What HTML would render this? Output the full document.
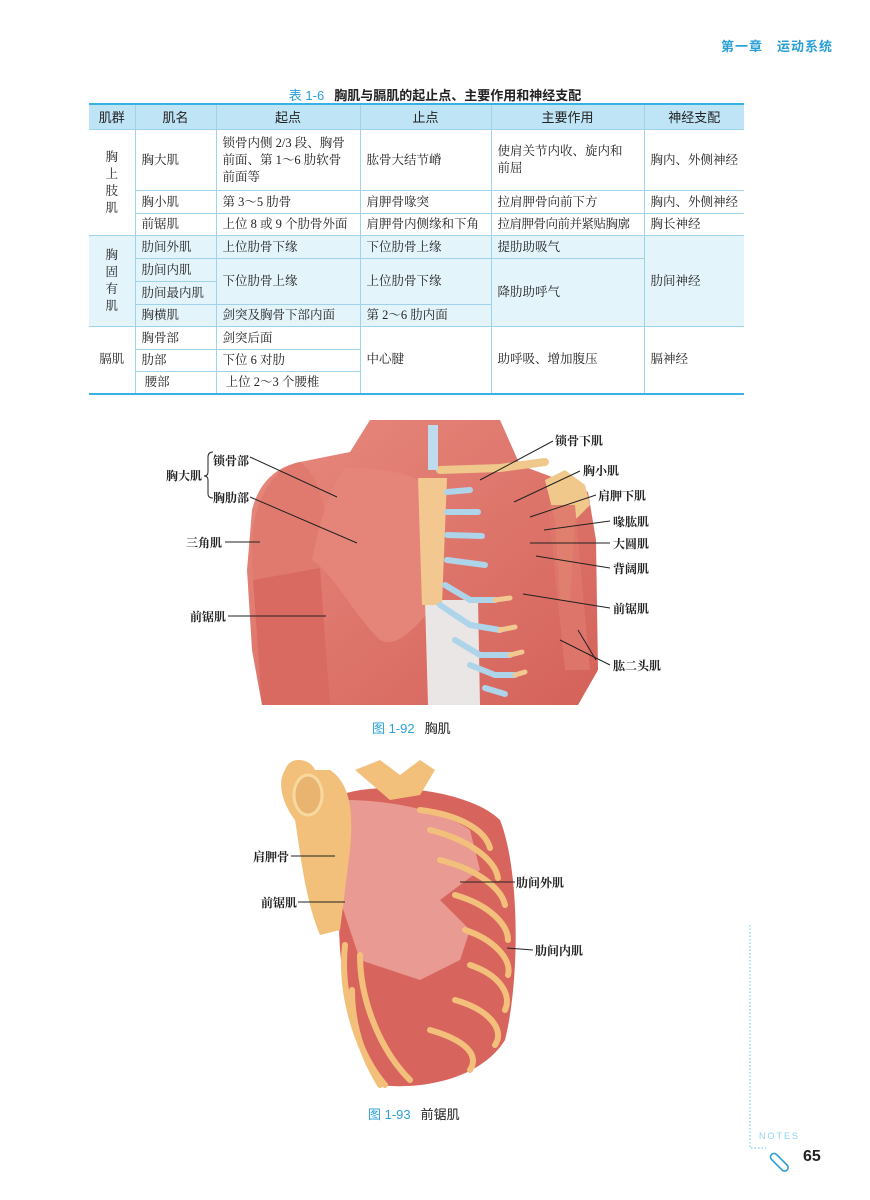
<!DOCTYPE html>
<html><head><meta charset="utf-8">
<style>
body{margin:0;width:870px;height:1200px;position:relative;background:#fff;overflow:hidden;font-family:"Liberation Serif","Noto Serif CJK SC",serif;}
.abs{position:absolute;}
.hdr{left:721px;top:36px;font:bold 13px "Liberation Sans","Noto Sans CJK SC",sans-serif;color:#2a9fd6;letter-spacing:1px;}
.ttl{left:0;width:870px;text-align:center;top:85px;font:bold 13px "Liberation Sans","Noto Sans CJK SC",sans-serif;color:#222;}
.ttl b{color:#2a9fd6;font-weight:normal;margin-right:10px}
table{position:absolute;left:89px;top:103px;border-collapse:collapse;font-size:12.5px;color:#222;table-layout:fixed;}
td{border:1px solid #9fd3ec;padding:0 6px;vertical-align:middle;line-height:17px;white-space:nowrap;overflow:hidden;}
tr.h td{background:#bfe4f5;text-align:center;font-family:"Liberation Sans","Noto Sans CJK SC",sans-serif;font-size:13px;height:24px;}
tr.b td{background:#e4f4fb;}
td.c{text-align:center;padding:0;}
table{border-top:2px solid #36b2e4;border-bottom:2px solid #36b2e4;}
table td:first-child{border-left:none}
table td.last{border-right:none}
.lab{position:absolute;font-size:12px;font-weight:bold;color:#222;white-space:nowrap;font-family:"Liberation Serif","Noto Serif CJK SC",serif;}
.cap{position:absolute;font:13px "Liberation Sans","Noto Sans CJK SC",sans-serif;color:#222;}
.cap b{color:#2a9fd6;font-weight:normal;margin-right:10px}
</style></head><body>
<div class="abs hdr">第一章　运动系统</div>
<div class="abs ttl"><b>表 1-6</b>胸肌与膈肌的起止点、主要作用和神经支配</div>
<table>
<colgroup><col style="width:46px"><col style="width:81px"><col style="width:144px"><col style="width:131px"><col style="width:153px"><col style="width:97px"></colgroup>
<tr class="h"><td>肌群</td><td>肌名</td><td>起点</td><td>止点</td><td>主要作用</td><td class="last">神经支配</td></tr>
<tr style="height:61px"><td class="c" rowspan="3">胸<br>上<br>肢<br>肌</td><td>胸大肌</td><td>锁骨内侧 2/3 段、胸骨<br>前面、第 1～6 肋软骨<br>前面等</td><td>肱骨大结节嵴</td><td>使肩关节内收、旋内和<br>前屈</td><td class="last">胸内、外侧神经</td></tr>
<tr style="height:23px"><td>胸小肌</td><td>第 3～5 肋骨</td><td>肩胛骨喙突</td><td>拉肩胛骨向前下方</td><td class="last">胸内、外侧神经</td></tr>
<tr style="height:22px"><td>前锯肌</td><td>上位 8 或 9 个肋骨外面</td><td>肩胛骨内侧缘和下角</td><td style="letter-spacing:-0.5px">拉肩胛骨向前并紧贴胸廓</td><td class="last">胸长神经</td></tr>
<tr class="b" style="height:23px"><td class="c" rowspan="4">胸<br>固<br>有<br>肌</td><td>肋间外肌</td><td>上位肋骨下缘</td><td>下位肋骨上缘</td><td>提肋助吸气</td><td class="last" rowspan="4">肋间神经</td></tr>
<tr class="b" style="height:23px"><td>肋间内肌</td><td rowspan="2">下位肋骨上缘</td><td rowspan="2">上位肋骨下缘</td><td rowspan="3">降肋助呼气</td></tr>
<tr class="b" style="height:23px"><td>肋间最内肌</td></tr>
<tr class="b" style="height:22px"><td>胸横肌</td><td>剑突及胸骨下部内面</td><td>第 2～6 肋内面</td></tr>
<tr style="height:23px"><td class="c" rowspan="3">膈肌</td><td>胸骨部</td><td>剑突后面</td><td rowspan="3">中心腱</td><td rowspan="3">助呼吸、增加腹压</td><td class="last" rowspan="3">膈神经</td></tr>
<tr style="height:22px"><td>肋部</td><td>下位 6 对肋</td></tr>
<tr style="height:22px"><td>&nbsp;腰部</td><td>&nbsp;上位 2～3 个腰椎</td></tr>
</table>

<svg class="abs" style="left:0;top:0" width="870" height="1200">
<defs>
<linearGradient id="m" x1="0" y1="0" x2="1" y2="1"><stop offset="0" stop-color="#e88a7e"/><stop offset="1" stop-color="#d4625a"/></linearGradient>
</defs>
<!-- Figure 1 -->
<path d="M370,420 L500,420 L520,465 L560,480 L588,492 L596,540 L598,670 L578,705 L262,705 L252,650 L247,570 L252,510 Q262,470 300,462 L350,452 Z" fill="url(#m)"/>
<path d="M300,462 C258,470 243,540 256,585 C275,605 310,575 335,560 C325,520 325,480 300,462Z" fill="#e07a6f"/>
<path d="M253,580 L320,568 L330,705 L262,705 Z" fill="#d96a61"/>
<path d="M345,468 C400,468 430,478 435,500 L440,600 C420,620 400,650 380,640 C350,610 335,575 312,560 C320,520 330,488 345,468Z" fill="#e5857a"/>
<path d="M425,600 L478,600 L480,705 L428,705Z" fill="#ebe6e6"/>
<path d="M440,470 L500,468 L545,462" stroke="#f0c88c" stroke-width="8" fill="none" stroke-linecap="round"/>
<path d="M418,478 L447,478 L442,605 L422,605Z" fill="#f2c890"/>
<rect x="428" y="425" width="10" height="45" fill="#bfdcef"/>
<g stroke="#aed4ea" stroke-width="6" fill="none" stroke-linecap="round">
<path d="M447,492 L470,490"/><path d="M447,512 L478,512"/><path d="M447,535 L482,536"/><path d="M447,560 L485,565"/>
<path d="M445,585 L470,600 L495,600"/><path d="M440,605 L470,625 L500,630"/><path d="M455,640 L480,655 L510,655"/><path d="M470,665 L495,675 L515,675"/><path d="M485,688 L505,694"/>
</g>
<g stroke="#f0c890" stroke-width="5" fill="none" stroke-linecap="round">
<path d="M495,600 L510,598"/><path d="M500,630 L515,627"/><path d="M510,655 L522,652"/><path d="M515,675 L525,672"/>
</g>
<path d="M545,480 L565,470 L585,485 L590,505 L575,520 L570,600 L560,600 L555,520Z" fill="#f0c88c"/>
<path d="M548,505 L575,505 L590,670 L565,670Z" fill="#df776c" opacity="0.9"/>
<g stroke="#222" stroke-width="1" fill="none">
<path d="M250,457 L337,497"/><path d="M250,497 L357,543"/><path d="M225,542 L260,542"/><path d="M228,616 L326,616"/>
<path d="M553,441 L480,480"/><path d="M580,471 L514,502"/><path d="M596,495 L530,517"/><path d="M610,521 L544,530"/><path d="M610,543 L530,543"/><path d="M610,568 L536,556"/><path d="M610,608 L523,594"/><path d="M610,665 L560,640"/><path d="M596,660 L578,630"/>
<path d="M213,452 Q208,452 208,457 L208,472 Q208,476 204,476 Q208,476 208,480 L208,494 Q208,498 213,498"/>
</g>
<!-- Figure 2 -->
<path d="M340,795 C380,780 470,790 500,820 C520,870 520,980 505,1040 C480,1080 420,1090 380,1085 C350,1040 335,960 340,900Z" fill="#d8655d"/>
<path d="M345,800 C400,800 450,815 470,830 L480,870 L440,900 L470,930 L460,960 L420,980 L360,960 L340,900Z" fill="#e99a92"/>
<path d="M285,770 C290,755 310,758 315,770 L330,770 C345,780 355,800 350,850 L340,930 L320,935 C305,900 300,850 295,820 C280,800 278,780 285,770Z" fill="#f2c07a"/>
<ellipse cx="308" cy="795" rx="14" ry="20" fill="#e8b470" stroke="#f7d9a0" stroke-width="3"/>
<path d="M355,770 L380,760 L400,775 L420,760 L435,770 L420,795 L390,800 Z" fill="#f2c07a"/>
<g stroke="#f2c07a" stroke-width="6" fill="none" stroke-linecap="round">
<path d="M420,810 C460,815 485,830 490,848"/>
<path d="M430,830 C470,840 495,860 498,878"/>
<path d="M440,860 C480,870 502,890 505,905"/>
<path d="M455,895 C490,905 508,925 508,940"/>
<path d="M465,930 C495,940 512,960 508,975"/>
<path d="M470,965 C500,975 512,995 505,1010"/>
<path d="M455,1000 C490,1010 505,1030 495,1045"/>
<path d="M430,1030 C465,1040 480,1055 470,1070"/>
<path d="M345,945 C340,990 355,1050 385,1085"/>
<path d="M360,955 C360,1000 380,1050 410,1080"/>
<path d="M352,990 C352,1030 365,1060 380,1085"/>
</g>
<g stroke="#222" stroke-width="1" fill="none">
<path d="M291,856 L335,856"/><path d="M298,902 L345,902"/><path d="M460,882 L515,882"/><path d="M507,948 L533,950"/>
</g>
<!-- notes -->
<path d="M750,925 L750,1148 L766,1148" stroke="#5cc4ec" stroke-width="1" stroke-dasharray="1.5,2" fill="none"/>
<rect x="774" y="1152" width="22" height="7" rx="3.5" transform="rotate(45 774 1152)" fill="none" stroke="#2a9fd6" stroke-width="1.6"/>
</svg>
<div class="lab" style="left:213px;top:452px">锁骨部</div>
<div class="lab" style="left:166px;top:467px">胸大肌</div>
<div class="lab" style="left:213px;top:489px">胸肋部</div>
<div class="lab" style="left:186px;top:534px">三角肌</div>
<div class="lab" style="left:190px;top:608px">前锯肌</div>
<div class="lab" style="left:555px;top:432px">锁骨下肌</div>
<div class="lab" style="left:583px;top:462px">胸小肌</div>
<div class="lab" style="left:598px;top:487px">肩胛下肌</div>
<div class="lab" style="left:613px;top:513px">喙肱肌</div>
<div class="lab" style="left:613px;top:535px">大圆肌</div>
<div class="lab" style="left:613px;top:560px">背阔肌</div>
<div class="lab" style="left:613px;top:600px">前锯肌</div>
<div class="lab" style="left:613px;top:657px">肱二头肌</div>
<div class="cap" style="left:372px;top:718px"><b>图 1-92</b>胸肌</div>
<div class="lab" style="left:253px;top:848px">肩胛骨</div>
<div class="lab" style="left:261px;top:894px">前锯肌</div>
<div class="lab" style="left:516px;top:874px">肋间外肌</div>
<div class="lab" style="left:535px;top:942px">肋间内肌</div>
<div class="cap" style="left:368px;top:1104px"><b>图 1-93</b>前锯肌</div>
<div class="abs" style="left:759px;top:1131px;font:9px 'Liberation Sans',sans-serif;color:#8fd4f0;letter-spacing:2px">NOTES</div>
<div class="abs" style="left:803px;top:1148px;font:bold 16px 'Liberation Sans',sans-serif;color:#222">65</div>
</body></html>
